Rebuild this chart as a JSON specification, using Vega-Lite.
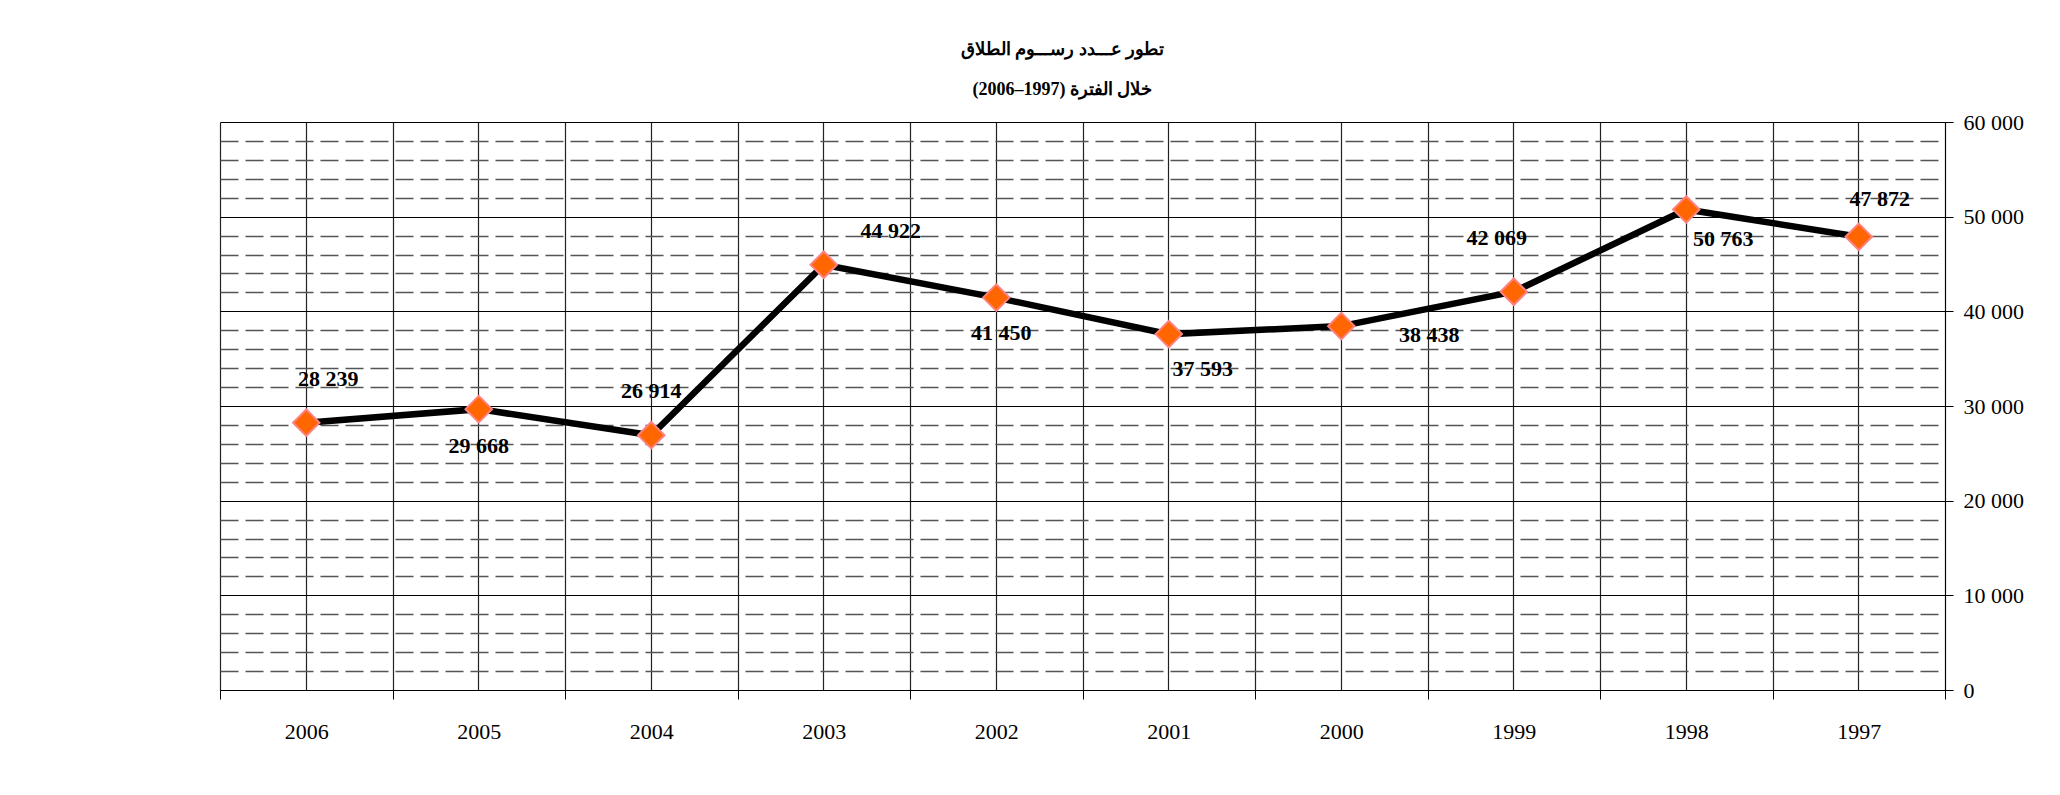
{
  "$schema": "https://vega.github.io/schema/vega-lite/v6.json",
  "width": 1725,
  "height": 568,
  "autosize": {"type": "none"},
  "padding": {"left": 220, "top": 122, "right": 115, "bottom": 105},
  "background": "white",
  "title": {
    "text": ["تطور عـــدد رســـوم الطلاق", "خلال الفترة (1997–2006)"],
    "font": "Liberation Serif",
    "fontSize": 18,
    "fontWeight": "bold",
    "lineHeight": 40,
    "anchor": "middle",
    "dx": -20,
    "offset": 12,
    "color": "#000"
  },
  "config": {
    "locale": {"number": {"decimal": ".", "thousands": " ", "grouping": [3], "currency": ["", ""]}},
    "view": {"stroke": null},
    "font": "Liberation Serif"
  },
  "data": {
    "values": [
      {"year": 2006, "count": 28239},
      {"year": 2005, "count": 29668},
      {"year": 2004, "count": 26914},
      {"year": 2003, "count": 44922},
      {"year": 2002, "count": 41450},
      {"year": 2001, "count": 37593},
      {"year": 2000, "count": 38438},
      {"year": 1999, "count": 42069},
      {"year": 1998, "count": 50763},
      {"year": 1997, "count": 47872}
    ]
  },
  "layer": [
    {
      "mark": {"type": "line", "color": "#000", "strokeWidth": 6.5},
      "encoding": {
        "x": {"field": "year", "type": "ordinal", "sort": "descending",
          "scale": {"type": "band", "paddingInner": 0, "paddingOuter": 0},
          "axis": {"orient": "bottom", "tickBand": "extent", "grid": true, "gridColor": "#222", "gridWidth": 1.2,
            "domain": true, "domainColor": "#000", "ticks": true, "tickSize": 9, "tickColor": "#000",
            "labelAngle": 0, "labelFontSize": 22, "labelFont": "Liberation Serif", "labelColor": "#000",
            "labelPadding": 22, "title": null}},
        "y": {"field": "count", "type": "quantitative",
          "scale": {"domain": [0, 60000], "nice": false},
          "axis": {"orient": "right", "values": [0, 10000, 20000, 30000, 40000, 50000, 60000],
            "grid": true, "gridColor": "#000", "gridWidth": 1, "domain": true, "domainColor": "#000",
            "ticks": true, "tickSize": 8, "tickColor": "#000", "labelFontSize": 22, "labelFont": "Liberation Serif",
            "labelColor": "#000", "labelPadding": 10, "format": ",d", "title": null}}
      }
    },
    {
      "mark": {"type": "point", "shape": "diamond", "filled": true, "fill": "#FF6600", "stroke": "#FF8080", "strokeWidth": 2, "size": 700, "opacity": 1},
      "encoding": {
        "x": {"field": "year", "type": "ordinal", "sort": "descending",
          "scale": {"type": "band", "paddingInner": 0, "paddingOuter": 0},
          "axis": {"orient": "top", "grid": true, "gridColor": "#222", "gridWidth": 1.2, "ticks": false, "labels": false, "domain": false, "title": null}},
        "y": {"field": "count", "type": "quantitative",
          "scale": {"domain": [0, 60000], "nice": false},
          "axis": {"orient": "left", "values": [2000, 4000, 6000, 8000, 12000, 14000, 16000, 18000, 22000, 24000, 26000, 28000, 32000, 34000, 36000, 38000, 42000, 44000, 46000, 48000, 52000, 54000, 56000, 58000],
            "grid": true, "gridColor": "#555", "gridWidth": 1.5, "gridDash": [18, 7], "ticks": false, "labels": false, "domain": false, "title": null}}
      }
    },
    {"transform": [{"filter": "datum.year == 2006"}], "mark": {"type": "text", "fontWeight": "bold", "fontSize": 22, "font": "Liberation Serif", "color": "#000", "dx": 22, "dy": -44},
     "encoding": {"x": {"field": "year", "type": "ordinal", "sort": "descending", "axis": null}, "y": {"field": "count", "type": "quantitative", "axis": null}, "text": {"field": "count", "type": "quantitative", "format": ",d"}}},
    {"transform": [{"filter": "datum.year == 2005"}], "mark": {"type": "text", "fontWeight": "bold", "fontSize": 22, "font": "Liberation Serif", "color": "#000", "dx": 0, "dy": 37},
     "encoding": {"x": {"field": "year", "type": "ordinal", "sort": "descending", "axis": null}, "y": {"field": "count", "type": "quantitative", "axis": null}, "text": {"field": "count", "type": "quantitative", "format": ",d"}}},
    {"transform": [{"filter": "datum.year == 2004"}], "mark": {"type": "text", "fontWeight": "bold", "fontSize": 22, "font": "Liberation Serif", "color": "#000", "dx": 0, "dy": -44},
     "encoding": {"x": {"field": "year", "type": "ordinal", "sort": "descending", "axis": null}, "y": {"field": "count", "type": "quantitative", "axis": null}, "text": {"field": "count", "type": "quantitative", "format": ",d"}}},
    {"transform": [{"filter": "datum.year == 2003"}], "mark": {"type": "text", "fontWeight": "bold", "fontSize": 22, "font": "Liberation Serif", "color": "#000", "dx": 67, "dy": -34},
     "encoding": {"x": {"field": "year", "type": "ordinal", "sort": "descending", "axis": null}, "y": {"field": "count", "type": "quantitative", "axis": null}, "text": {"field": "count", "type": "quantitative", "format": ",d"}}},
    {"transform": [{"filter": "datum.year == 2002"}], "mark": {"type": "text", "fontWeight": "bold", "fontSize": 22, "font": "Liberation Serif", "color": "#000", "dx": 5, "dy": 35},
     "encoding": {"x": {"field": "year", "type": "ordinal", "sort": "descending", "axis": null}, "y": {"field": "count", "type": "quantitative", "axis": null}, "text": {"field": "count", "type": "quantitative", "format": ",d"}}},
    {"transform": [{"filter": "datum.year == 2001"}], "mark": {"type": "text", "fontWeight": "bold", "fontSize": 22, "font": "Liberation Serif", "color": "#000", "dx": 34, "dy": 35},
     "encoding": {"x": {"field": "year", "type": "ordinal", "sort": "descending", "axis": null}, "y": {"field": "count", "type": "quantitative", "axis": null}, "text": {"field": "count", "type": "quantitative", "format": ",d"}}},
    {"transform": [{"filter": "datum.year == 2000"}], "mark": {"type": "text", "fontWeight": "bold", "fontSize": 22, "font": "Liberation Serif", "color": "#000", "dx": 88, "dy": 9},
     "encoding": {"x": {"field": "year", "type": "ordinal", "sort": "descending", "axis": null}, "y": {"field": "count", "type": "quantitative", "axis": null}, "text": {"field": "count", "type": "quantitative", "format": ",d"}}},
    {"transform": [{"filter": "datum.year == 1999"}], "mark": {"type": "text", "fontWeight": "bold", "fontSize": 22, "font": "Liberation Serif", "color": "#000", "dx": -17, "dy": -54},
     "encoding": {"x": {"field": "year", "type": "ordinal", "sort": "descending", "axis": null}, "y": {"field": "count", "type": "quantitative", "axis": null}, "text": {"field": "count", "type": "quantitative", "format": ",d"}}},
    {"transform": [{"filter": "datum.year == 1998"}], "mark": {"type": "text", "fontWeight": "bold", "fontSize": 22, "font": "Liberation Serif", "color": "#000", "dx": 37, "dy": 30},
     "encoding": {"x": {"field": "year", "type": "ordinal", "sort": "descending", "axis": null}, "y": {"field": "count", "type": "quantitative", "axis": null}, "text": {"field": "count", "type": "quantitative", "format": ",d"}}},
    {"transform": [{"filter": "datum.year == 1997"}], "mark": {"type": "text", "fontWeight": "bold", "fontSize": 22, "font": "Liberation Serif", "color": "#000", "dx": 21, "dy": -38},
     "encoding": {"x": {"field": "year", "type": "ordinal", "sort": "descending", "axis": null}, "y": {"field": "count", "type": "quantitative", "axis": null}, "text": {"field": "count", "type": "quantitative", "format": ",d"}}}
  ],
  "resolve": {"axis": {"x": "independent", "y": "independent"}}
}
